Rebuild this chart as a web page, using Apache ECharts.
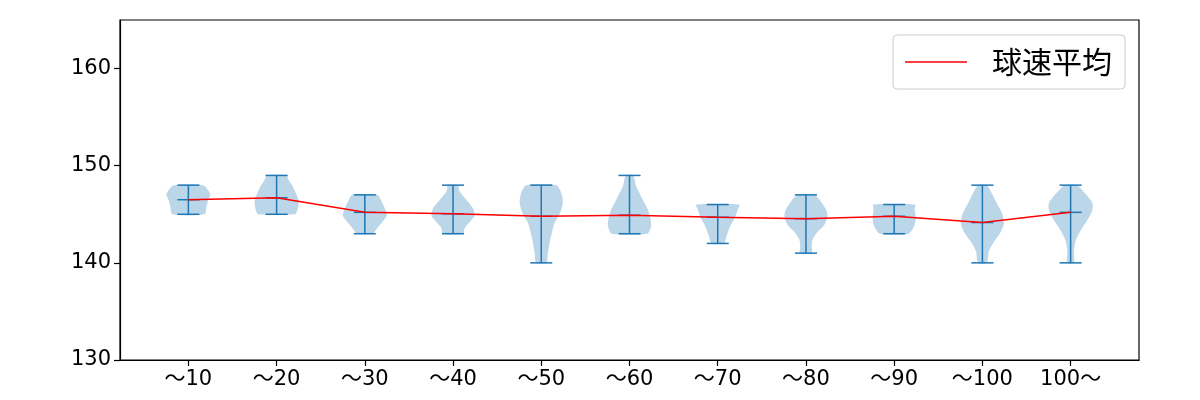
<!DOCTYPE html>
<html>
<head>
<meta charset="utf-8">
<script src="https://cdn.jsdelivr.net/npm/echarts@6/dist/echarts.min.js"></script>
<style>html,body{margin:0;padding:0;background:#fff}#c{width:1200px;height:400px}</style>
</head>
<body>
<div id="c"></div>
<script>
const categories = ['～10','～20','～30','～40','～50','～60','～70','～80','～90','～100','100～'];
const positions = [1,2,3,4,5,6,7,8,9,10,11];
const mins = [145,145,143,143,140,143,142,141,143,140,140];
const maxs = [148,149,147,148,148,149,146,147,146,148,148];
const means = [146.5,146.7,145.2,145.05,144.8,144.9,144.7,144.55,144.8,144.15,145.2];
// violin outlines: [value, relative half width]
const shape10 = [[148,0.67],[147.5,0.89],[147,1.0],[146.5,0.9],[145.8,0.82],[145,0.73]];
const shape20 = [[149,0.45],[148.6,0.53],[147.9,0.72],[147.2,0.87],[146.4,1.0],[145.5,0.95],[145,0.83]];
const shape30 = [[147,0.57],[146.5,0.72],[145.6,0.91],[144.9,1.0],[144.3,0.83],[143.6,0.57],[143,0.34]];
const shape40 = [[148,0.23],[147.4,0.29],[146.5,0.6],[145.6,0.91],[144.9,0.98],[144.3,0.8],[143.6,0.53],[143,0.45]];
const shape50 = [[148,0.68],[147.2,0.91],[146.2,0.98],[145,0.83],[144.1,0.6],[143.1,0.48],[142.1,0.38],[141,0.3],[140,0.23]];
const shape60 = [[149,0.17],[147.9,0.3],[146.5,0.6],[145.5,0.83],[144.5,0.96],[143.8,0.98],[143,0.8]];
const shape70 = [[146,0.98],[145.5,0.91],[144.6,0.76],[143.8,0.57],[142.9,0.42],[142,0.27]];
const shape80 = [[147,0.38],[146.3,0.68],[145.5,0.91],[144.8,0.98],[143.9,0.83],[143.2,0.53],[142.4,0.3],[141.7,0.26],[141,0.26]];
const shape90 = [[146,0.95],[145.5,0.93],[144.7,0.98],[143.8,0.91],[143,0.64]];
const shape100 = [[148,0.19],[147.2,0.42],[146.2,0.64],[145.2,0.87],[144.1,0.98],[143.1,0.81],[142.1,0.5],[141.2,0.29],[140,0.2]];
const shape100p = [[148,0.27],[147.2,0.64],[146.2,0.98],[145.4,0.98],[144.4,0.76],[143.3,0.45],[142.3,0.23],[141.2,0.15],[140,0.15]];
const shapes = [shape10,shape20,shape30,shape40,shape50,shape60,shape70,shape80,shape90,shape100,shape100p];
const yTicks = [130,140,150,160];

const BLUE = '#1f77b4';
const HALF = 0.25, CAP = 0.125;

const chart = echarts.init(document.getElementById('c'), null, {renderer:'canvas'});

function renderViolin(params, api) {
  const i = params.dataIndex;
  const pos = api.value(0);
  const shp = shapes[i];
  const right = [], left = [];
  for (const [v, w] of shp) {
    right.push(api.coord([pos + w*HALF, v]));
    left.unshift(api.coord([pos - w*HALF, v]));
  }
  const poly = right.concat(left);
  const pTop = api.coord([pos, maxs[i]]);
  const pBot = api.coord([pos, mins[i]]);
  const capL = api.coord([pos - CAP, 0])[0];
  const capR = api.coord([pos + CAP, 0])[0];
  const yMean = api.coord([pos, means[i]])[1];
  const ls = {stroke: BLUE, lineWidth: 1.5};
  return {type:'group', children:[
    {type:'polygon', shape:{points: poly, smooth: 0.25}, style:{fill:'rgba(31,119,180,0.3)', stroke:'none'}},
    {type:'line', shape:{x1:pTop[0], y1:pTop[1], x2:pBot[0], y2:pBot[1]}, style:ls},
    {type:'line', shape:{x1:capL, y1:pTop[1], x2:capR, y2:pTop[1]}, style:ls},
    {type:'line', shape:{x1:capL, y1:pBot[1], x2:capR, y2:pBot[1]}, style:ls},
    {type:'line', shape:{x1:capL, y1:yMean, x2:capR, y2:yMean}, style:ls}
  ]};
}

const tickFont = {fontFamily:'DejaVu Sans, Noto Sans CJK JP', fontSize:21, color:'#000'};

chart.setOption({
  animation:false,
  grid:{left:120, right:61, top:20, bottom:40, show:true, borderColor:'#000', borderWidth:1.2, backgroundColor:'transparent'},
  legend:{
    right:75, top:35, data:['球速平均'], icon:'rect', itemWidth:62, itemHeight:1.5,
    padding:[12,13,12,12], backgroundColor:'#fff', borderColor:'#cccccc', borderWidth:1, borderRadius:4,
    textStyle:{fontFamily:'Noto Sans CJK JP', fontSize:30, color:'#000', padding:[0,0,0,20]}
  },
  xAxis:{type:'value', min:0.225, max:11.775,
    axisLine:{show:true, lineStyle:{color:'#000', width:1.2}},
    axisTick:{show:true, length:6, lineStyle:{color:'#000', width:1.2}, customValues:positions},
    axisLabel:{...tickFont, margin:9, customValues:positions, formatter:(v)=>categories[Math.round(v)-1] || ''},
    splitLine:{show:false}},
  yAxis:{type:'value', min:130, max:165,
    axisLine:{show:true, lineStyle:{color:'#000', width:1.2}},
    axisTick:{show:true, length:6, lineStyle:{color:'#000', width:1.2}, customValues:yTicks},
    axisLabel:{...tickFont, margin:9, customValues:yTicks},
    splitLine:{show:false}},
  series:[
    {type:'custom', name:'violin', renderItem:renderViolin, data:positions.map(p=>[p]), encode:{x:0}, z:2, silent:true},
    {type:'line', name:'球速平均', data:positions.map((p,i)=>[p, means[i]]), symbol:'none',
      lineStyle:{color:'#ff0000', width:1.5}, itemStyle:{color:'#ff0000'}, z:5}
  ]
});
</script>
</body>
</html>
